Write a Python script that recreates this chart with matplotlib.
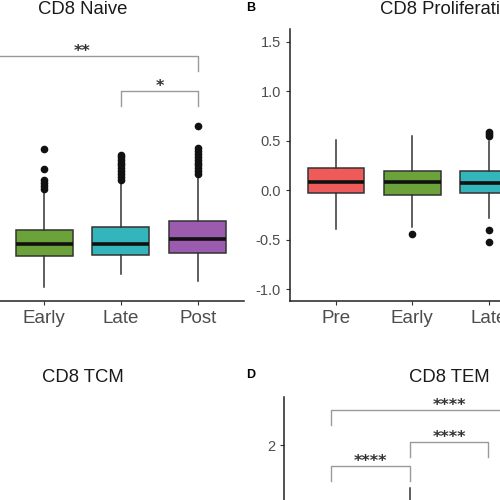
import matplotlib.pyplot as plt

plt.rcParams['font.family'] = ['Liberation Sans', 'DejaVu Sans']

# categories and colours
groups = ['Pre', 'Early', 'Late', 'Post']
colors = {'Pre': '#EF5A5A', 'Early': '#6BA33A', 'Late': '#34B4BB', 'Post': '#9B5CB0'}

# CD8 Naive (panel A) - box statistics
naive_groups = ['Early', 'Late', 'Post']
naive_q1 = [-0.66, -0.65, -0.63]
naive_med = [-0.54, -0.54, -0.49]
naive_q3 = [-0.40, -0.37, -0.31]
naive_lo = [-0.98, -0.85, -0.92]
naive_hi = [-0.03, 0.07, 0.13]
naive_fliers = [
    [0.01, 0.04, 0.07, 0.10, 0.21, 0.42],
    [0.10, 0.13, 0.16, 0.19, 0.22, 0.25, 0.28, 0.31, 0.34, 0.36],
    [0.16, 0.19, 0.22, 0.25, 0.28, 0.31, 0.34, 0.37, 0.40, 0.43, 0.65],
]
naive_brackets = [('Pre', 'Post', 1.36, '**'), ('Late', 'Post', 1.00, '*')]

# CD8 Proliferating (panel B)
prolif_groups = ['Pre', 'Early', 'Late']
prolif_q1 = [-0.03, -0.05, -0.03]
prolif_med = [0.08, 0.08, 0.07]
prolif_q3 = [0.22, 0.19, 0.19]
prolif_lo = [-0.39, -0.37, -0.28]
prolif_hi = [0.51, 0.55, 0.50]
prolif_fliers = [[], [-0.44], [0.55, 0.57, 0.59, -0.40, -0.52]]
prolif_ticks = [-1.0, -0.5, 0.0, 0.5, 1.0, 1.5]

# CD8 TEM (panel D)
tem_groups = ['Pre', 'Early', 'Late']
tem_q1 = [-0.5, -0.2, -0.4]
tem_med = [-0.2, 0.1, -0.1]
tem_q3 = [0.2, 0.5, 0.3]
tem_lo = [-1.3, -1.0, -1.2]
tem_hi = [0.9, 1.33, 1.0]
tem_ticks = [-1, 0, 1, 2]
tem_brackets = [('Pre', 'Post', 2.55, '****'), ('Early', 'Late', 2.05, '****'),
                ('Pre', 'Early', 1.67, '****')]


def px_rect(left, top, right, bottom):
    return [left / 500, 1 - bottom / 500, (right - left) / 500, (bottom - top) / 500]


def style_axes(ax, title, ylim, yticks=None, fmt='%.1f'):
    for s in ['top', 'right']:
        ax.spines[s].set_visible(False)
    for s in ['left', 'bottom']:
        ax.spines[s].set_color('#222222')
        ax.spines[s].set_linewidth(1.1)
    ax.set_xlim(-0.6, 3.6)
    ax.set_ylim(*ylim)
    ax.set_xticks(range(len(groups)))
    ax.set_xticklabels(groups, fontsize=13.5, color='#4D4D4D')
    ax.tick_params(axis='both', color='#333333', length=3, width=0.8)
    if yticks is not None:
        ax.set_yticks(yticks)
        ax.set_yticklabels([fmt % t for t in yticks], fontsize=10.5, color='#4D4D4D')
    else:
        ax.set_yticks([])
    ax.set_title(title, fontsize=13.3, pad=10.5, color='#1A1A1A')


def draw_boxes(ax, names, q1, med, q3, lo, hi, fliers=None):
    stats = []
    for i, n in enumerate(names):
        stats.append({'q1': q1[i], 'med': med[i], 'q3': q3[i], 'whislo': lo[i],
                      'whishi': hi[i], 'fliers': fliers[i] if fliers else []})
    pos = [groups.index(n) for n in names]
    bp = ax.bxp(stats, positions=pos, widths=0.74, patch_artist=True, showcaps=False,
                manage_ticks=False,
                boxprops=dict(edgecolor='#333333', linewidth=1.1),
                whiskerprops=dict(color='#333333', linewidth=1.1),
                medianprops=dict(color='#111111', linewidth=2.6),
                flierprops=dict(marker='o', markerfacecolor='#111111',
                                markeredgecolor='#111111', markersize=4.5))
    for patch, n in zip(bp['boxes'], names):
        patch.set_facecolor(colors[n])


def bracket(ax, a, b, y, label, drop):
    xa, xb = groups.index(a), groups.index(b)
    ax.plot([xa, xa, xb, xb], [y - drop, y, y, y - drop], color='#9A9A9A',
            linewidth=1.0, clip_on=False)
    ax.text((xa + xb) / 2, y, label, ha='center', va='baseline', fontweight='bold',
            fontsize=11.5, color='#333333', family='DejaVu Sans', clip_on=False)


fig = plt.figure(figsize=(5, 5), dpi=100)

axA = fig.add_axes(px_rect(-79, 29, 244, 301))
draw_boxes(axA, naive_groups, naive_q1, naive_med, naive_q3, naive_lo, naive_hi, naive_fliers)
style_axes(axA, 'CD8 Naive', (-1.12, 1.63))
for a, b, y, lab in naive_brackets:
    bracket(axA, a, b, y, lab, 0.15)

axB = fig.add_axes(px_rect(290, 29, 611, 301))
draw_boxes(axB, prolif_groups, prolif_q1, prolif_med, prolif_q3, prolif_lo, prolif_hi,
           prolif_fliers)
style_axes(axB, 'CD8 Proliferating', (-1.12, 1.63), prolif_ticks)

axC = fig.add_axes(px_rect(-79, 397, 244, 669))
style_axes(axC, 'CD8 TCM', (-1.5, 2.75))

axD = fig.add_axes(px_rect(284, 397, 614, 669))
draw_boxes(axD, tem_groups, tem_q1, tem_med, tem_q3, tem_lo, tem_hi)
style_axes(axD, 'CD8 TEM', (-1.5, 2.75), tem_ticks, '%d')
for a, b, y, lab in tem_brackets:
    bracket(axD, a, b, y, lab, 0.23)

fig.text(251 / 500, 1 - 8 / 500, 'B', fontsize=9, fontweight='bold', ha='center', va='center')
fig.text(251 / 500, 1 - 375 / 500, 'D', fontsize=9, fontweight='bold', ha='center', va='center')

fig.savefig('out.png', dpi=100)
